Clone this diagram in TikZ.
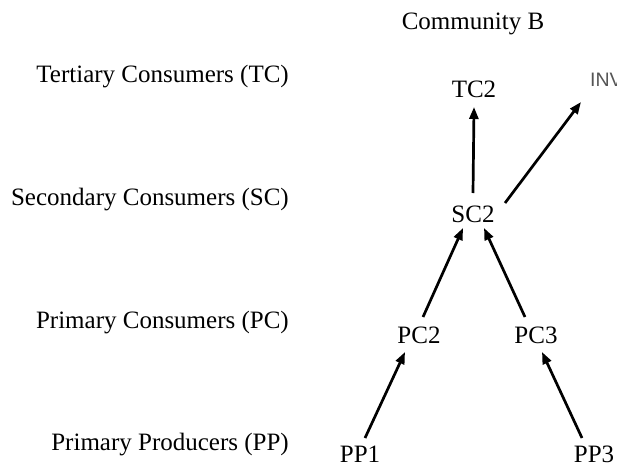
\documentclass[tikz,border=0pt]{standalone}
\usepackage{fontspec}
\setmainfont{Liberation Serif}
\newfontfamily\invfont{Liberation Sans}
\usetikzlibrary{arrows.meta,calc}
\definecolor{invgray}{HTML}{555555}
\begin{document}
\begin{tikzpicture}[x=1pt,y=-1pt,
  lbl/.style={anchor=base east,inner sep=0pt,font=\fontsize{25}{30}\selectfont},
  sp/.style={anchor=base,inner sep=0pt,font=\fontsize{25}{30}\selectfont},
  flow/.style={line width=2.7pt,-{Triangle[length=12pt,width=9pt]}}]
\useasboundingbox (0,0) rectangle (617,466);
\clip (0,0) rectangle (617,466);
\node[sp] (title) at (473,29) {Community B};
\node[lbl] (lTC) at (289,82) {Tertiary Consumers (TC)};
\node[lbl] (lSC) at (289,205) {Secondary Consumers (SC)};
\node[lbl] (lPC) at (289,328) {Primary Consumers (PC)};
\node[lbl] (lPP) at (289,450) {Primary Producers (PP)};
\node[sp] (TC2) at (474,97) {TC2};
\node[sp] (SC2) at (473,222) {SC2};
\node[sp] (PC2) at (419,343) {PC2};
\node[sp] (PC3) at (536,343) {PC3};
\node[sp] (PP1) at (360,462) {PP1};
\node[sp] (PP3) at (594,462) {PP3};
\node[anchor=base west,inner sep=0pt,text=invgray,font=\invfont\fontsize{19.5}{23}\selectfont] (INV) at (590,86) {INV};
\draw[flow] ($(SC2.base)+(0,-29)$) -- ($(TC2.base)+(0,10)$);
\draw[flow] ($(SC2.base)+(32,-19)$) -- ($(INV.base west)+(-9,16)$);
\draw[flow] ($(PC2.base)+(4,-26)$) -- ($(SC2.base)+(-10,6)$);
\draw[flow] ($(PC3.base)+(-11,-26)$) -- ($(SC2.base)+(11,6)$);
\draw[flow] ($(PP1.base)+(5,-24)$) -- ($(PC2.base)+(-14,9)$);
\draw[flow] ($(PP3.base)+(-12,-24)$) -- ($(PC3.base)+(6,9)$);
\end{tikzpicture}
\end{document}
